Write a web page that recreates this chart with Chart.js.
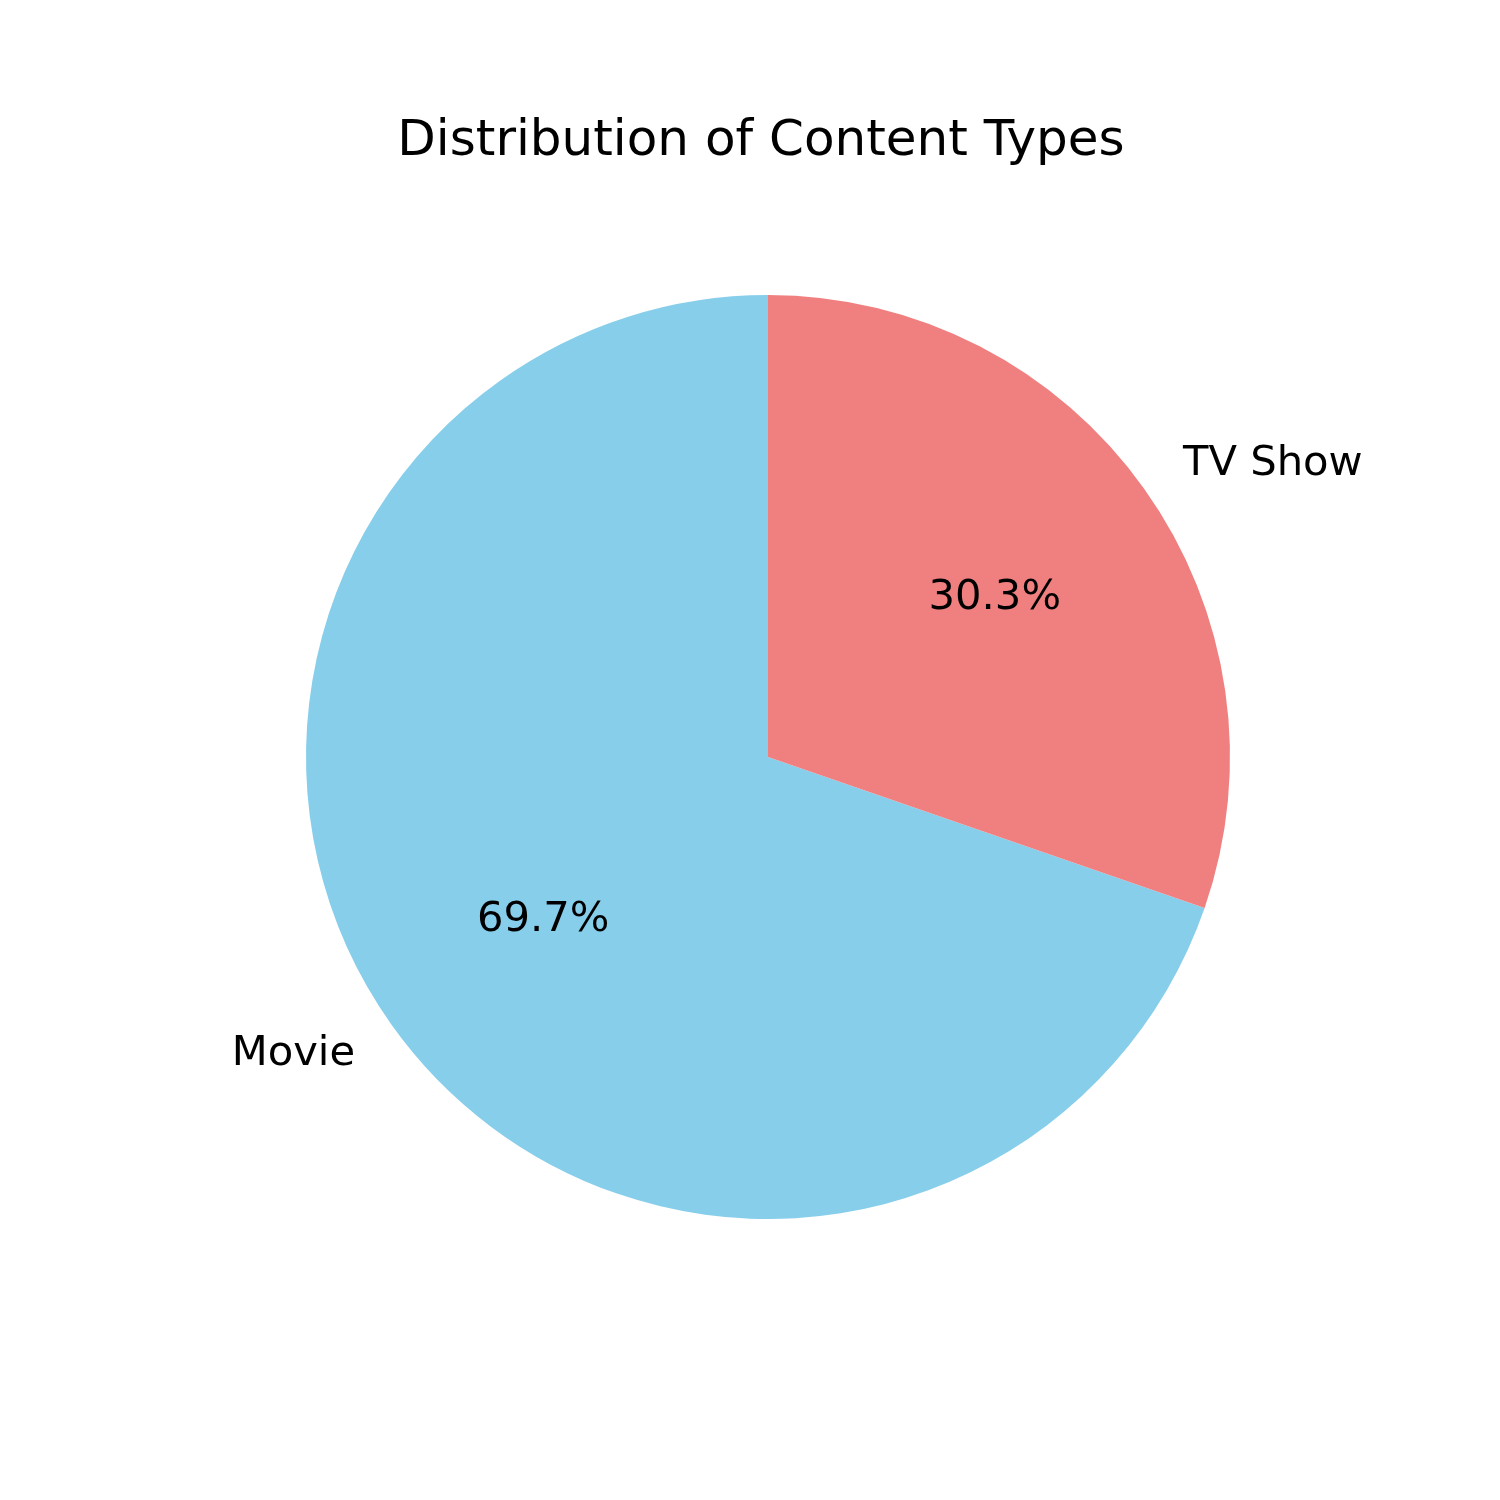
<!DOCTYPE html>
<html>
<head>
<meta charset="utf-8">
<script src="https://cdn.jsdelivr.net/npm/chart.js@4/dist/chart.umd.min.js"></script>
<style>
  html, body { margin: 0; padding: 0; background: #fff; }
  #wrap { width: 1500px; height: 1500px; }
</style>
</head>
<body>
<div id="wrap"><canvas id="myChart" width="1500" height="1500"></canvas></div>
<script>
// data
var categories = ["Movie", "TV Show"];
var shares = [69.7, 30.3];
var sliceColors = ['#87CEEB', '#F08080'];
var titleText = "Distribution of Content Types";

var total = shares.reduce(function (a, b) { return a + b; }, 0);
// matplotlib draws counter-clockwise from the top, Chart.js clockwise,
// so start the first slice where it ends in the reference
var startRotation = -shares[0] / total * 360;

var FONT = "'DejaVu Sans', sans-serif";

// labels outside, percentages inside, title on top
var pieText = {
    id: 'pieText',
    afterDraw: function (chart) {
        var ctx = chart.ctx;
        var arcs = chart.getDatasetMeta(0).data;
        ctx.save();
        ctx.fillStyle = '#000';
        ctx.textBaseline = 'middle';
        arcs.forEach(function (arc, i) {
            var p = arc.getProps(['x', 'y', 'startAngle', 'endAngle', 'outerRadius'], true);
            var mid = (p.startAngle + p.endAngle) / 2;
            var c = Math.cos(mid), s = Math.sin(mid);

            ctx.font = '41.7px ' + FONT;
            ctx.textAlign = c > 0 ? 'left' : 'right';
            ctx.fillText(categories[i], p.x + c * p.outerRadius * 1.1 + 1, p.y + s * p.outerRadius * 1.1 + 2);

            ctx.textAlign = 'center';
            var pct = (shares[i] / total * 100).toFixed(1) + '%';
            ctx.fillText(pct, p.x + c * p.outerRadius * 0.6 + 1, p.y + s * p.outerRadius * 0.6 + 2);
        });

        var area = chart.chartArea;
        ctx.font = '50px ' + FONT;
        ctx.textAlign = 'center';
        ctx.textBaseline = 'alphabetic';
        ctx.fillText(titleText, (area.left + area.right) / 2 - 7, 155);
        ctx.restore();
    }
};

var ctx = document.getElementById('myChart').getContext('2d');
var chart = new Chart(ctx, {
    type: 'pie',
    data: {
        labels: categories,
        datasets: [{
            data: shares,
            backgroundColor: sliceColors,
            borderWidth: 0
        }]
    },
    options: {
        responsive: false,
        animation: false,
        rotation: startRotation,
        layout: {
            padding: { left: 306, right: 270, top: 295, bottom: 281 }
        },
        plugins: {
            legend: { display: false },
            title: { display: false },
            tooltip: { enabled: false }
        }
    },
    plugins: [pieText]
});
</script>
</body>
</html>
